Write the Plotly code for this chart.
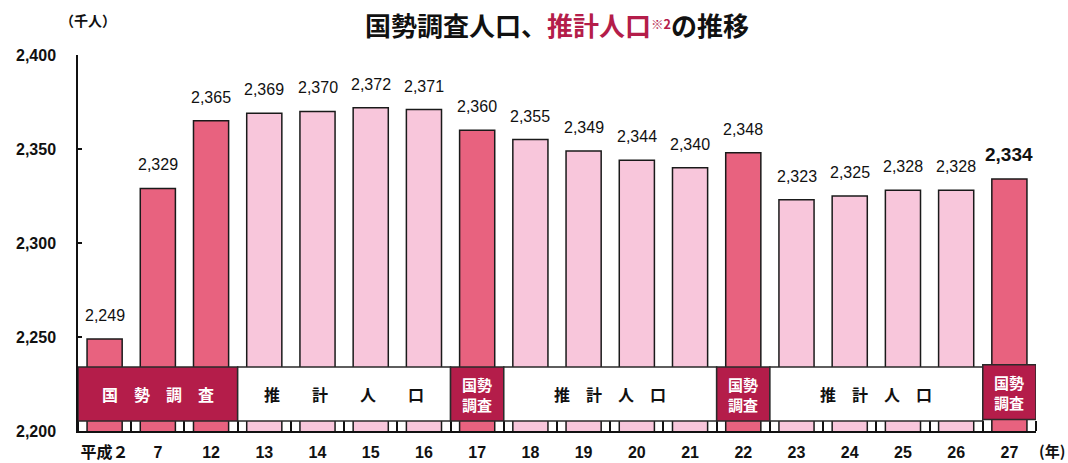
import plotly.graph_objects as go

# ---- data ----
years = ["平成２", "7", "12", "13", "14", "15", "16", "17", "18", "19",
         "20", "21", "22", "23", "24", "25", "26", "27"]
population = [2249, 2329, 2365, 2369, 2370, 2372, 2371, 2360, 2355, 2349,
              2344, 2340, 2348, 2323, 2325, 2328, 2328, 2334]
kind = ["census", "census", "census", "est", "est", "est", "est", "census", "est", "est",
        "est", "est", "census", "est", "est", "est", "est", "census"]
value_labels = ["2,249", "2,329", "2,365", "2,369", "2,370", "2,372", "2,371", "2,360",
                "2,355", "2,349", "2,344", "2,340", "2,348", "2,323", "2,325", "2,328",
                "2,328", "2,334"]
# band segments: (first index, last index, type, label)
segments = [(0, 2, "census", "国\u3000勢\u3000調\u3000査"),
            (3, 6, "est", "推\u3000\u3000計\u3000\u3000人\u3000\u3000口"),
            (7, 7, "census", "国勢<br>調査"),
            (8, 11, "est", "推\u3000計\u3000人\u3000口"),
            (12, 12, "census", "国勢<br>調査"),
            (13, 16, "est", "推\u3000計\u3000人\u3000口"),
            (17, 17, "census", "国勢<br>調査")]

CENSUS = "#E8627F"
EST = "#F8C6DB"
DARK = "#B41D4A"
FONT = "Liberation Sans, Arial, Noto Sans CJK JP, sans-serif"
JFONT = "Noto Sans CJK JP, sans-serif"

idx = list(range(len(years)))

fig = go.Figure()
fig.add_trace(go.Bar(
    x=idx, y=population,
    marker=dict(color=[CENSUS if k == "census" else EST for k in kind],
                line=dict(color="#1a1a1a", width=1.5)),
    width=0.66, hovertext=years, hoverinfo="text+y",
))

annotations = []
for i, (v, lab) in enumerate(zip(population, value_labels)):
    last = i == len(years) - 1
    annotations.append(dict(
        x=i, y=v, xref="x", yref="y",
        text=f"<b>{lab}</b>" if last else lab, showarrow=False,
        yanchor="bottom", yshift=12 if last else 13,
        font=dict(family=FONT, size=19 if last else 16, color="#111"),
    ))

shapes = []
band_lo, band_hi = 2205.3, 2234.0
for a, b, t, lab in segments:
    x0, x1 = a - 0.5, b + 0.5
    lo, hi = band_lo, band_hi
    if a == len(years) - 1:
        lo, hi = band_lo + 0.8, band_hi + 1.3
    shapes.append(dict(type="rect", xref="x", yref="y", x0=x0, x1=x1,
                       y0=lo, y1=hi, layer="above",
                       fillcolor=DARK if t == "census" else "white",
                       line=dict(color="#2a2a2a", width=1.5)))
    annotations.append(dict(
        x=(x0 + x1) / 2, y=(lo + hi) / 2, xref="x", yref="y",
        text=f"<b>{lab}</b>", showarrow=False,
        font=dict(family=JFONT, size=15 if a == b else 16,
                  color="white" if t == "census" else "#111"),
        yanchor="middle", xanchor="center",
    ))

fig.update_layout(
    width=1068, height=463,
    margin=dict(l=78, r=32, t=55, b=32, autoexpand=False),
    paper_bgcolor="white", plot_bgcolor="white",
    showlegend=False,
    font=dict(family=FONT, color="#111"),
    title=dict(
        text="<b>国勢調査人口、<span style='color:#B41D4A'>推計人口<span style='font-size:18px'><sup>※2</sup></span></span>の推移</b>",
        x=0.5, xanchor="center", xref="paper", y=1 - 27 / 463, yref="container",
        yanchor="middle",
        font=dict(family=JFONT, size=26, color="#111"),
    ),
    xaxis=dict(
        tickmode="array", tickvals=idx, ticktext=years, tickangle=0,
        ticks="", showline=True, linecolor="#111", linewidth=1.5,
        tickfont=dict(family=FONT + ", Noto Sans CJK JP", size=16, color="#111", weight="bold"),
        range=[-0.5, 17.5], automargin=False, showgrid=False, zeroline=False,
        minor=dict(tickvals=[i - 0.5 for i in range(len(years) + 1)], ticks="inside",
                   ticklen=10, tickcolor="#111", tickwidth=1.5, showgrid=False),
        ticklabelstandoff=6,
    ),
    yaxis=dict(
        range=[2200, 2400], tickvals=[2200, 2250, 2300, 2350, 2400],
        ticktext=["2,200", "2,250", "2,300", "2,350", "2,400"],
        ticks="inside", ticklen=4, tickcolor="#111", tickwidth=1.5,
        showline=True, linecolor="#111", linewidth=1.5, showgrid=False, zeroline=False,
        tickfont=dict(family=FONT, size=16, color="#111", weight="bold"),
        ticklabelstandoff=17, automargin=False,
    ),
    shapes=shapes,
    annotations=annotations + [
        dict(xref="paper", yref="paper", x=(88 - 78) / 958, y=(431 - 20) / 376,
             xanchor="center", yanchor="middle",
             text="<b>（千人）</b>", showarrow=False,
             font=dict(family=JFONT, size=14, color="#111")),
        dict(xref="paper", yref="paper", x=(1067 - 78) / 958, y=(431 - 451) / 376,
             xanchor="right", yanchor="middle",
             text="<b>(年)</b>", showarrow=False,
             font=dict(family=JFONT, size=15, color="#111")),
    ],
)

fig.write_html(
    "out.html",
    config={"displayModeBar": False},
    post_script="document.body.style.margin='0';document.body.style.overflow='hidden';",
)
